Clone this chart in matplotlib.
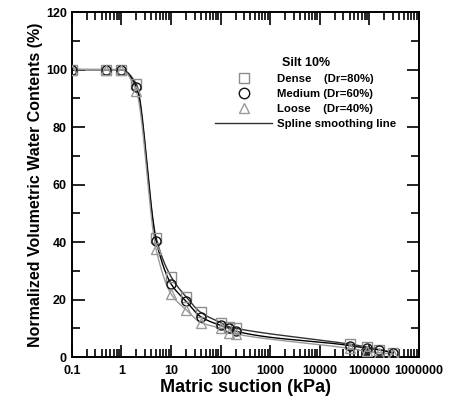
import numpy as np
import matplotlib
matplotlib.use("Agg")
import matplotlib.pyplot as plt
from matplotlib.lines import Line2D
from matplotlib.ticker import FixedLocator, FuncFormatter, LogLocator, NullFormatter, MultipleLocator

plt.rcParams["font.family"] = ["Liberation Sans", "DejaVu Sans"]
plt.rcParams["font.weight"] = "bold"

# ── data ──
suction = [0.1, 0.5, 1, 2, 5, 10, 20, 40, 100, 150, 200, 40000, 90000, 160000, 300000]
dense = [100, 100, 100, 95, 41.5, 28, 21, 15.5, 12, 10.5, 10, 4.5, 3.5, 2.5, 1.5]
medium = [100, 100, 100, 94, 40.5, 25.5, 19.5, 14, 11, 10, 9, 4, 3, 2.5, 1.5]
loose = [100, 100, 100, 92.5, 37.5, 22, 16.5, 12, 10, 8.5, 8, 3, 2, 1.5, 1]
x_ticks = [0.1, 1, 10, 100, 1000, 10000, 100000, 1000000]
y_ticks = [0, 20, 40, 60, 80, 100, 120]


def pchip(xk, yk, xs):
    """monotone cubic through the points (x in log10 space)"""
    xk = np.asarray(xk, float)
    yk = np.asarray(yk, float)
    h = np.diff(xk)
    d = np.diff(yk) / h
    n = len(xk)
    m = np.zeros(n)
    for k in range(1, n - 1):
        if d[k - 1] * d[k] > 0:
            w1 = 2 * h[k] + h[k - 1]
            w2 = h[k] + 2 * h[k - 1]
            m[k] = (w1 + w2) / (w1 / d[k - 1] + w2 / d[k])
    m[0] = d[0]
    m[-1] = d[-1]
    idx = np.clip(np.searchsorted(xk, xs) - 1, 0, n - 2)
    t = (xs - xk[idx]) / h[idx]
    h00 = 2 * t**3 - 3 * t**2 + 1
    h10 = t**3 - 2 * t**2 + t
    h01 = -2 * t**3 + 3 * t**2
    h11 = t**3 - t**2
    return h00 * yk[idx] + h10 * h[idx] * m[idx] + h01 * yk[idx + 1] + h11 * h[idx] * m[idx + 1]


fig = plt.figure(figsize=(4.49, 4.03), dpi=100)
ax = fig.add_axes([0.160, 0.114, 0.773, 0.856])

lx = np.log10(suction)
xs = np.linspace(lx[0], lx[-1], 600)

series = [
    (dense, "s", "#8c8c8c", "#333333"),
    (medium, "o", "#111111", "#000000"),
    (loose, "^", "#9a9a9a", "#9a9a9a"),
]
for vals, mk, mcol, lcol in series:
    ax.plot(10**xs, pchip(lx, vals, xs), color=lcol, lw=1.0, zorder=2)
for vals, mk, mcol, lcol in series:
    ax.plot(suction, vals, ls="none", marker=mk, ms=6.5, mfc="none",
            mec=mcol, mew=1.0, zorder=3)

ax.set_xscale("log")
ax.set_xlim(0.1, 1e6)
ax.set_ylim(0, 120)
ax.xaxis.set_major_locator(FixedLocator(x_ticks))
ax.xaxis.set_major_formatter(FuncFormatter(lambda v, p: f"{v:g}" if v < 1 else f"{int(round(v))}"))
ax.xaxis.set_minor_locator(LogLocator(base=10, subs=np.arange(2, 10)))
ax.xaxis.set_minor_formatter(NullFormatter())
ax.yaxis.set_major_locator(FixedLocator(y_ticks))
ax.yaxis.set_minor_locator(MultipleLocator(10))

ax.tick_params(which="both", direction="in", top=True, right=True, labelsize=9, width=1.2)
ax.tick_params(which="major", length=9)
ax.tick_params(which="minor", length=6)
ax.tick_params(axis="x", which="major", pad=6)
for lab in ax.get_xticklabels() + ax.get_yticklabels():
    lab.set_fontweight("bold")
for sp in ax.spines.values():
    sp.set_linewidth(1.4)

ax.set_xlabel("Matric suction (kPa)", fontsize=13, fontweight="bold", labelpad=1)
ax.set_ylabel("Normalized Volumetric Water Contents (%)", fontsize=11.5, fontweight="bold", labelpad=2)

handles = [
    Line2D([], [], ls="none", marker="s", ms=7.5, mfc="none", mec="#8c8c8c"),
    Line2D([], [], ls="none", marker="o", ms=7.5, mfc="none", mec="#111111"),
    Line2D([], [], ls="none", marker="^", ms=7.5, mfc="none", mec="#9a9a9a"),
    Line2D([], [], color="#333333", lw=1.0),
]
labels = ["Dense    (Dr=80%)", "Medium (Dr=60%)", "Loose    (Dr=40%)", "Spline smoothing line"]
leg = ax.legend(handles, labels, title="Silt 10%", loc="upper right",
                bbox_to_anchor=(0.957, 0.893), frameon=False, fontsize=8.2,
                title_fontsize=9, handlelength=5.0, handletextpad=0.4,
                labelspacing=0.45, borderpad=0.2)
leg.get_title().set_fontweight("bold")
for t in leg.get_texts():
    t.set_fontweight("bold")

fig.savefig("out.png", dpi=100)
